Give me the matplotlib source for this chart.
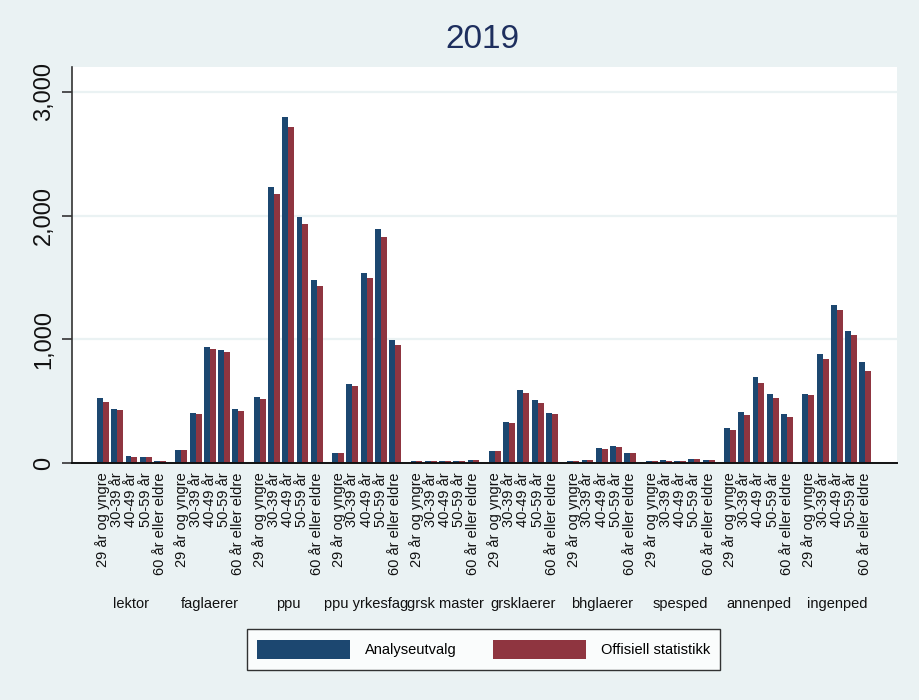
import numpy as np
import matplotlib.pyplot as plt
from matplotlib.transforms import blended_transform_factory
from matplotlib.ticker import FuncFormatter

plt.rcParams["font.family"] = ["Liberation Sans", "DejaVu Sans"]

# -----------------------------
# Data
# -----------------------------
groups = ["lektor", "faglaerer", "ppu", "ppu yrkesfag", "grsk master",
          "grsklaerer", "bhglaerer", "spesped", "annenped", "ingenped"]
ages = ["29 år og yngre", "30-39 år", "40-49 år", "50-59 år", "60 år eller eldre"]

analyseutvalg = [
    [529, 440, 60, 52, 14],
    [109, 408, 940, 916, 440],
    [537, 2232, 2797, 1990, 1481],
    [77, 642, 1537, 1893, 997],
    [15, 15, 15, 15, 28],
    [101, 335, 593, 513, 408],
    [15, 28, 125, 141, 77],
    [15, 22, 15, 36, 28],
    [286, 416, 698, 561, 400],
    [561, 884, 1280, 1069, 819],
]
offisiell = [
    [496, 432, 52, 52, 14],
    [109, 400, 924, 900, 424],
    [521, 2175, 2716, 1933, 1433],
    [77, 626, 1497, 1828, 956],
    [15, 15, 15, 15, 28],
    [101, 327, 569, 488, 392],
    [15, 28, 117, 133, 77],
    [15, 14, 15, 36, 28],
    [270, 384, 650, 529, 375],
    [553, 844, 1239, 1037, 747],
]

BLUE = "#1c4770"
RED = "#8f3540"
BG = "#eaf2f3"

# -----------------------------
# Figure setup
# -----------------------------
fig = plt.figure(figsize=(9.2, 7.0), dpi=100, facecolor=BG)
ax = fig.add_axes([72 / 920, 1 - 463 / 700, (897 - 72) / 920, (463 - 67) / 700])
ax.set_facecolor("white")

group_step = 5.5
bar_w = 0.42
centers = np.array([g * group_step + i for g in range(len(groups)) for i in range(len(ages))])
blue_vals = np.array(analyseutvalg).ravel()
red_vals = np.array(offisiell).ravel()

ax.bar(centers - bar_w / 2, blue_vals, width=bar_w, color=BLUE, label="Analyseutvalg", zorder=3)
ax.bar(centers + bar_w / 2, red_vals, width=bar_w, color=RED, label="Offisiell statistikk", zorder=3)

ax.set_xlim(-2.175, 55.72)
ax.set_ylim(0, 3200)

# y axis
ax.set_yticks([0, 1000, 2000, 3000])
ax.yaxis.set_major_formatter(FuncFormatter(lambda v, _: f"{int(v):,}"))
ax.tick_params(axis="y", length=7, width=1.2, color="#333333", labelsize=17,
               pad=5, labelrotation=90, labelcolor="#111111")
for lbl in ax.get_yticklabels():
    lbl.set_va("center")
ax.grid(axis="y", color=BG, linewidth=1.6, zorder=0)

# x axis: age labels
ax.set_xticks(centers)
ax.set_xticklabels(ages * len(groups), rotation=90, va="top", ha="center")
ax.tick_params(axis="x", length=0, labelsize=10.5, pad=7, labelcolor="#111111")

for side in ["top", "right"]:
    ax.spines[side].set_visible(False)
ax.spines["left"].set_color("#333333")
ax.spines["left"].set_linewidth(1.2)
ax.spines["bottom"].set_color("#111111")
ax.spines["bottom"].set_linewidth(1.4)
ax.spines["bottom"].set_zorder(4)

# group labels
trans = blended_transform_factory(ax.transData, fig.transFigure)
for g, name in enumerate(groups):
    ax.text(g * group_step + 2, 1 - 604 / 700, name, transform=trans,
            ha="center", va="center", fontsize=10.5, color="#111111")

# title
fig.text(482 / 920, 1 - 40 / 700, "2019", ha="center", va="center",
         fontsize=24, color="#1e2f5e")

# legend
leg = fig.legend(loc="center", bbox_to_anchor=(483.5 / 920, 1 - 649.5 / 700),
                 ncol=2, fontsize=10.5, frameon=True, fancybox=False,
                 handlelength=6.4, handleheight=1.7, handletextpad=1.0,
                 columnspacing=2.5, borderpad=0.7)
leg.get_frame().set_edgecolor("black")
leg.get_frame().set_linewidth(1.0)
leg.get_frame().set_facecolor("white")

fig.savefig("out.png", dpi=100, facecolor=BG)
